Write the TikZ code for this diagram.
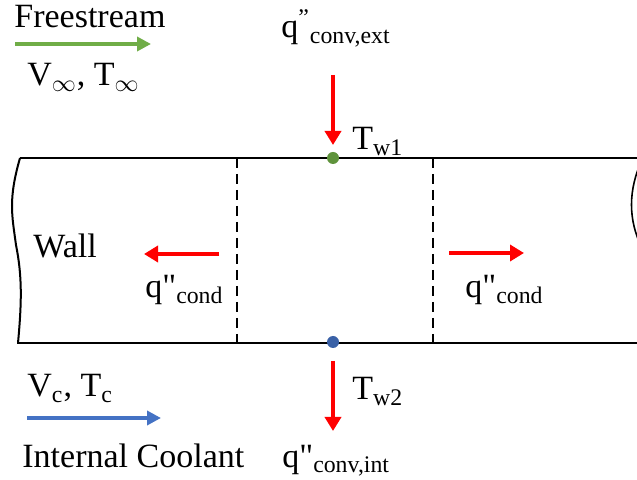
\documentclass[tikz,border=0pt]{standalone}
\usepackage{fontspec}
\setmainfont{Liberation Serif}
\newfontfamily\plainfont{Liberation Serif}
\usetikzlibrary{arrows.meta}
\definecolor{flowgreen}{HTML}{70AD47}
\definecolor{coolblue}{HTML}{4472C4}
\definecolor{heatred}{HTML}{FF0000}
\newcommand{\dq}{{\plainfont"}}
\tikzset{
  heat/.style={draw=heatred, line width=2pt, -{Triangle[width=8pt,length=7pt]}},
  stream/.style={line width=2pt, -{Triangle[width=7pt,length=7pt]}},
  lbl/.style={anchor=base west, inner sep=0pt, font=\fontsize{17}{20}\selectfont}
}
\begin{document}
\begin{tikzpicture}[x=0.5pt, y=-0.5pt]
  \clip (0,0) rectangle (637,480);
  % wall
  \draw[line width=1pt] (20,158) -- (637,158);
  \draw[line width=1pt] (17,343) -- (637,343);
  \draw[line width=1pt] (20,158) .. controls (8,200) and (12,215) .. (16,245)
    .. controls (22,275) and (22,300) .. (18,343);
  \draw[line width=0.8pt] (642,160) .. controls (628,190) and (628,220) .. (642,248);
  \foreach \xx in {237, 433}{
    \draw[line width=1pt, dash pattern=on 5pt off 3pt] (\xx,158) -- (\xx,343);
  }
  % wall points
  \coordinate (tw1) at (333,158);
  \coordinate (tw2) at (333,342);
  \fill[flowgreen!85!black] (tw1) circle (3pt);
  \fill[coolblue!85!black] (tw2) circle (3pt);
  % heat flux
  \coordinate (qext) at (333,75);
  \coordinate (qext end) at (333,145);
  \coordinate (qint) at (333,361);
  \coordinate (qint end) at (333,431);
  \coordinate (qleft) at (219,254);
  \coordinate (qleft end) at (144,254);
  \coordinate (qright) at (449,253);
  \coordinate (qright end) at (524,253);
  \draw[heat] (qext) -- (qext end);
  \draw[heat] (qint) -- (qint end);
  \draw[heat] (qleft) -- (qleft end);
  \draw[heat] (qright) -- (qright end);
  % freestream and coolant
  \coordinate (fs) at (15,44);
  \coordinate (fs end) at (151,44);
  \coordinate (ic) at (27,418);
  \coordinate (ic end) at (161,418);
  \draw[stream, flowgreen] (fs) -- (fs end);
  \draw[stream, coolblue] (ic) -- (ic end);
  % labels
  \node[lbl] (freestream) at (14,28) {Freestream};
  \node[lbl] (vinf) at (27,86) {V\textsubscript{$\infty$}, T\textsubscript{$\infty$}};
  \node[lbl] (ext) at (281,38) {q\textsuperscript{”}\textsubscript{conv,ext}};
  \node[lbl] (tw1 lbl) at (352,150) {T\textsubscript{w1}};
  \node[lbl] (wall) at (33,258) {Wall};
  \node[lbl] (cond left) at (145,298) {q\dq\textsubscript{cond}};
  \node[lbl] (cond right) at (465,298) {q\dq\textsubscript{cond}};
  \node[lbl] (vc) at (27,397) {V\textsubscript{c}, T\textsubscript{c}};
  \node[lbl] (tw2 lbl) at (352,400) {T\textsubscript{w2}};
  \node[lbl] (coolant) at (22,467) {Internal Coolant};
  \node[lbl] (int) at (282,467) {q\dq\textsubscript{conv,int}};
\end{tikzpicture}
\end{document}
